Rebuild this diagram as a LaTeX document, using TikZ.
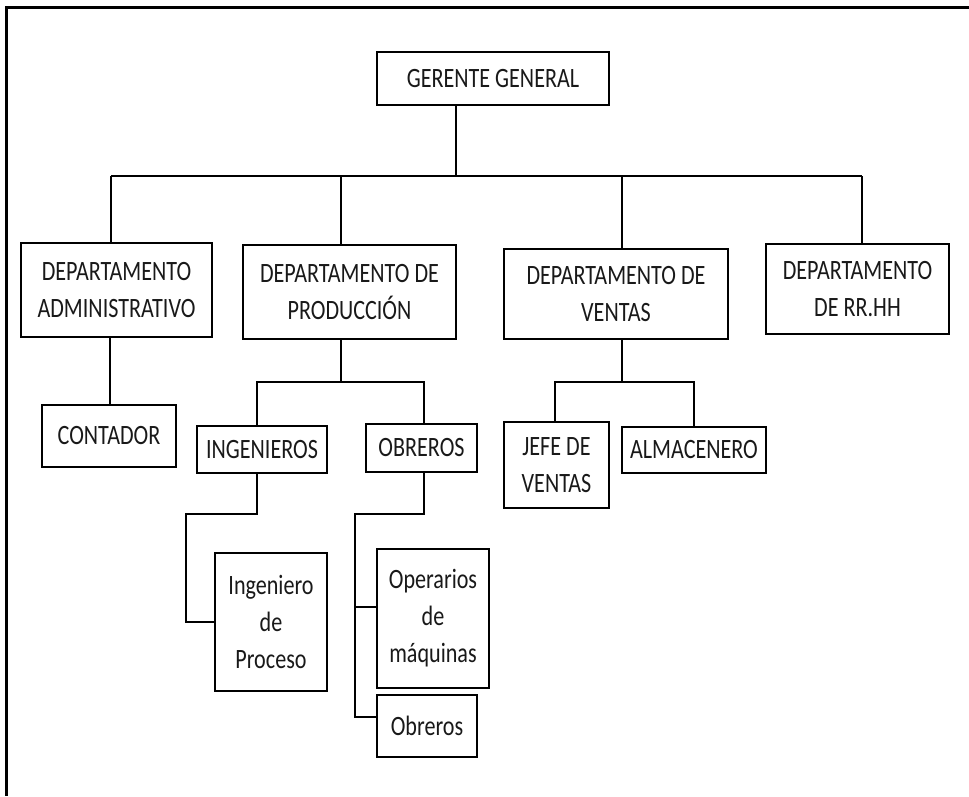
\documentclass[tikz,border=0pt]{standalone}
\usepackage{fontspec}
\setmainfont{Carlito}[FakeStretch=0.79]
\begin{document}
\begin{tikzpicture}[x=1pt,y=-1pt,
  box/.style={draw=black,line width=1.8pt,inner sep=0pt,align=center,
    font=\fontsize{28}{37}\selectfont,text=black!90},
  conn/.style={draw=black,line width=1.8pt},
  frame/.style={draw=black,line width=3pt}]
\useasboundingbox (0,0) rectangle (969,796);
\fill[white] (0,0) rectangle (969,796);
\draw[frame] (969,7) -- (6,7) -- (6,796);
% nodes
\node[box,minimum width=232pt,minimum height=53pt] (gg) at (493,78.5) {GERENTE GENERAL};
\node[box,minimum width=191pt,minimum height=94pt] (adm) at (116.5,290) {DEPARTAMENTO\\ADMINISTRATIVO};
\node[box,minimum width=213pt,minimum height=94pt] (prod) at (349.5,292) {DEPARTAMENTO DE\\PRODUCCIÓN};
\node[box,minimum width=224pt,minimum height=90pt] (ven) at (616,294) {DEPARTAMENTO DE\\VENTAS};
\node[box,minimum width=183pt,minimum height=90pt] (rrhh) at (857.5,289) {DEPARTAMENTO\\DE RR.HH};
\node[box,minimum width=134pt,minimum height=62pt] (cont) at (109,436) {CONTADOR};
\node[box,minimum width=130pt,minimum height=47pt] (ing) at (262,449.5) {INGENIEROS};
\node[box,minimum width=111pt,minimum height=48pt] (obr) at (421.5,448) {OBREROS};
\node[box,minimum width=105pt,minimum height=86pt] (jefe) at (556.5,465) {JEFE DE\\VENTAS};
\node[box,minimum width=144pt,minimum height=46pt] (alm) at (694,450) {ALMACENERO};
\node[box,minimum width=112pt,minimum height=138pt] (ingp) at (271,622) {Ingeniero\\de\\Proceso};
\node[box,minimum width=112pt,minimum height=139pt] (oper) at (433,618.5) {Operarios\\de\\máquinas};
\node[box,minimum width=100pt,minimum height=62pt] (obr2) at (427,726) {Obreros};
% bus coordinates
\coordinate (g1) at (456,176);
\coordinate (bL) at (111,176);
\coordinate (bP) at (341,176);
\coordinate (bV) at (622,176);
\coordinate (bR) at (862,176);
\coordinate (ac) at (110,0);
\coordinate (p1) at (341,382);
\coordinate (p2) at (257,382);
\coordinate (p3) at (424,382);
\coordinate (v1) at (622,382);
\coordinate (v2) at (555,382);
\coordinate (v3) at (694,382);
\coordinate (i1) at (257,514);
\coordinate (i2) at (186,514);
\coordinate (o1) at (424,514);
\coordinate (o2) at (355,514);
\coordinate (o3) at (355,607);
\coordinate (o4) at (355,717);
% connectors
\draw[conn] (gg.south -| g1) -- (g1);
\draw[conn] (bL) -- (bR);
\draw[conn] (bL) -- (adm.north -| bL);
\draw[conn] (bP) -- (prod.north -| bP);
\draw[conn] (bV) -- (ven.north -| bV);
\draw[conn] (bR) -- (rrhh.north -| bR);
\draw[conn] (adm.south -| ac) -- (cont.north -| ac);
\draw[conn] (prod.south -| p1) -- (p1);
\draw[conn] (ing.north -| p2) -- (p2) -- (p3) -- (obr.north -| p3);
\draw[conn] (ven.south -| v1) -- (v1);
\draw[conn] (jefe.north -| v2) -- (v2) -- (v3) -- (alm.north -| v3);
\draw[conn] (ing.south -| i1) -- (i1) -- (i2) |- (ingp.west);
\draw[conn] (obr.south -| o1) -- (o1) -- (o2) -- (o4) -- (obr2.west |- o4);
\draw[conn] (o3) -- (oper.west |- o3);
\end{tikzpicture}
\end{document}
